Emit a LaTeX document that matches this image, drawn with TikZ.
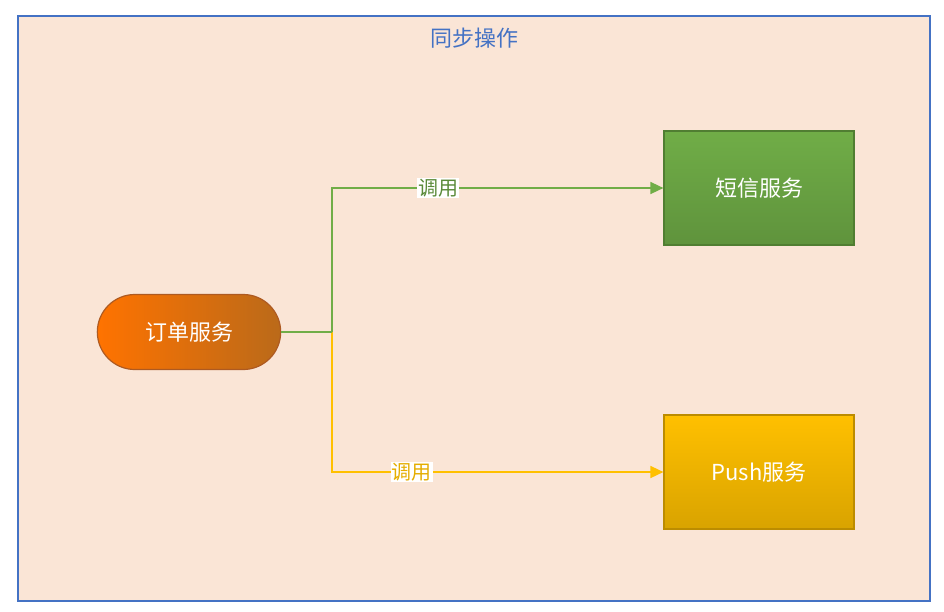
\documentclass[tikz,border=0pt]{standalone}
\usepackage{fontspec}
\setmainfont{Noto Sans CJK SC}
\usetikzlibrary{arrows.meta,shapes.misc}
\definecolor{bgc}{HTML}{FAE5D6}
\definecolor{blu}{HTML}{4472C4}
\definecolor{gr}{HTML}{70AD47}
\definecolor{yl}{HTML}{FFC000}
\tikzset{
 x=1pt,y=-1pt,
 svc/.style={minimum width=190pt,minimum height=114pt,text=white,font=\fontsize{22}{26}\selectfont,line width=1.2pt},
 lbl/.style={fill=white,inner sep=1pt,font=\fontsize{20}{24}\selectfont},
 conn/.style={line width=1.6pt,-{Triangle[length=13pt,width=12pt]}}
}
\begin{document}
\begin{tikzpicture}
\useasboundingbox (0,0) rectangle (944,611);
\draw[blu,fill=bgc,line width=1.2pt] (18,16) rectangle (930,601);
\node[blu,font=\fontsize{22}{26}\selectfont] (title) at (474,38) {同步操作};
\node[rounded rectangle,minimum width=190pt,minimum height=75pt,left color=orange!90!red,right color=orange!70!black!90,draw={rgb,255:red,174;green,90;blue,33},text=white,font=\fontsize{22}{26}\selectfont,line width=1.2pt] (order) at (189,332) {订单服务};
\node[svc,draw={rgb,255:red,80;green,126;blue,50},top color=gr,bottom color=gr!85!black] (sms) at (759,188) {短信服务};
\node[svc,draw={rgb,255:red,188;green,140;blue,0},top color=yl,bottom color=yl!85!black] (push) at (759,472) {Push服务};
\coordinate (j) at (332,332);
\draw[conn,gr] (order.east) -- (j) |- (sms.west) node[lbl,pos=0.66,text=gr!80!black] {调用};
\draw[conn,yl] (j) |- (push.west) node[lbl,pos=0.62,text=yl!90!black] {调用};
\draw[gr,line width=1.6pt] (order.east) -- (j);
\end{tikzpicture}
\end{document}
